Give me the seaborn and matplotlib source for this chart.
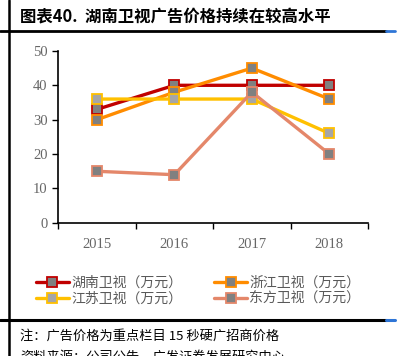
import pandas as pd
import seaborn as sns
import matplotlib
matplotlib.use("Agg")
import matplotlib.pyplot as plt
from matplotlib.lines import Line2D

# Daten
jahre = ["2015", "2016", "2017", "2018"]
hunan = [33, 40, 40, 40]
zhejiang = [30, 38, 45, 36]
jiangsu = [36, 36, 36, 26]
dongfang = [15, 14, 38, 20]
namen = ["湖南卫视（万元）", "浙江卫视（万元）", "江苏卫视（万元）", "东方卫视（万元）"]

farben = ["#C00000", "#FF8C00", "#FFC000", "#E4876A"]
marker_innen = ["#808080", "#808080", "#A6A6A6", "#808080"]

df = pd.DataFrame({
    "年份": jahre * 4,
    "价格": hunan + zhejiang + jiangsu + dongfang,
    "频道": [n for n in namen for _ in jahre],
})

sns.set_style("ticks")
plt.rcParams["font.family"] = ["Noto Sans CJK SC", "DejaVu Sans"]

fig = plt.figure(figsize=(3.98, 3.56), dpi=100)
ax = fig.add_axes([0.146, 0.374, 0.779, 0.483])

sns.lineplot(data=df, x="年份", y="价格", hue="频道", hue_order=namen,
             palette=farben, marker="s", markersize=6.5, linewidth=2.4,
             legend=False, ax=ax)

for line, fc, c in zip(ax.lines, marker_innen, farben):
    line.set_markerfacecolor(fc)
    line.set_markeredgecolor(c)
    line.set_markeredgewidth(1.3)

# Achsen
ax.set_ylim(0, 50)
ax.set_xlim(-0.5, 3.5)
ax.set_yticks(range(0, 51, 10))
ax.set_xticks([-0.5, 0.5, 1.5, 2.5, 3.5])
ax.set_xticklabels([])
ax.set_xticks(range(4), minor=True)
ax.set_xticklabels(jahre, minor=True)
ax.tick_params(axis="x", which="minor", length=0, pad=11)
ax.tick_params(axis="both", which="major", length=4, width=1, color="black", direction="out")
for lab in ax.get_xticklabels(minor=True) + ax.get_yticklabels():
    lab.set_family("Liberation Serif")
    lab.set_fontsize(10.5)
    lab.set_color("#666666")
ax.set_xlabel("")
ax.set_ylabel("")
sns.despine(ax=ax)
for s in ["left", "bottom"]:
    ax.spines[s].set_color("black")
    ax.spines[s].set_linewidth(1.2)

# Legende
reihenfolge = [0, 2, 1, 3]
handles = [ax.lines[i] for i in reihenfolge]
labels = [namen[i] for i in reihenfolge]
fig.legend(handles, labels, ncol=2, loc="upper left", bbox_to_anchor=(0.058, 0.26),
           frameon=False, fontsize=10, handlelength=2.4, columnspacing=2.3,
           handletextpad=0.15, labelspacing=0.15, labelcolor="#595959")

# Rahmen und Texte
fig.add_artist(Line2D([9 / 398, 9 / 398], [0, 1], color="black", lw=1.8))
fig.add_artist(Line2D([0, 386 / 398], [1 - 31 / 356, 1 - 31 / 356], color="black", lw=2))
fig.add_artist(Line2D([386 / 398, 395 / 398], [1 - 31 / 356, 1 - 31 / 356], color="#2E75D6", lw=2))
fig.add_artist(Line2D([0, 386 / 398], [1 - 320 / 356, 1 - 320 / 356], color="black", lw=2.2))
fig.add_artist(Line2D([386 / 398, 395 / 398], [1 - 320 / 356, 1 - 320 / 356], color="#2E75D6", lw=2.2))

fig.text(20 / 398, 1 - 17 / 356, "图表40.  湖南卫视广告价格持续在较高水平", fontsize=11.8,
         fontweight="bold", va="center", ha="left", color="black")
fig.text(20 / 398, 1 - 336 / 356, "注：广告价格为重点栏目 15 秒硬广招商价格", fontsize=9.5,
         va="center", ha="left", color="black")
fig.text(20 / 398, 1 - 351.5 / 356, "资料来源：公司公告，广发证券发展研究中心", fontsize=9.5,
         va="top", ha="left", color="black")

fig.savefig("out.png", dpi=100)
